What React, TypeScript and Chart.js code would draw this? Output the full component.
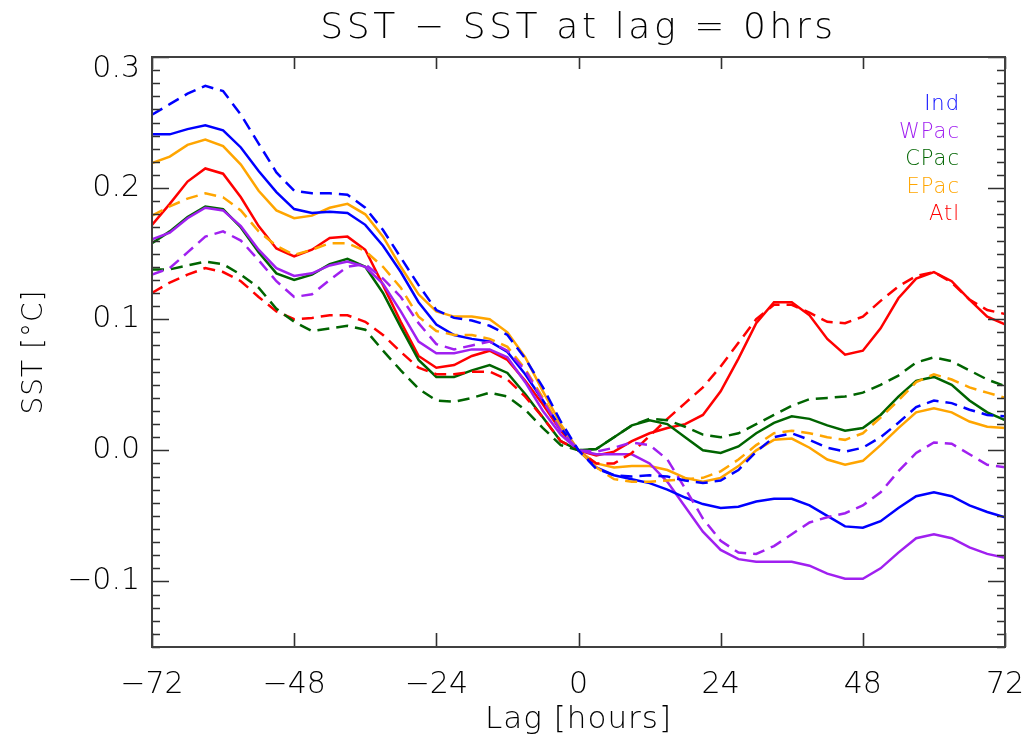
import React, { useEffect, useRef } from 'react';
import { Chart, registerables } from 'chart.js';

Chart.register(...registerables);

const lags = [-72, -69, -66, -63, -60, -57, -54, -51, -48, -45, -42, -39, -36, -33, -30, -27, -24, -21, -18, -15, -12, -9, -6, -3, 0, 3, 6, 9, 12, 15, 18, 21, 24, 27, 30, 33, 36, 39, 42, 45, 48, 51, 54, 57, 60, 63, 66, 69, 72];

const seriesNames = ['Ind', 'WPac', 'CPac', 'EPac', 'Atl'];
const seriesColors = ['#0000ff', '#a020f0', '#006400', '#ffa500', '#ff0000'];

const indSolid = [0.241, 0.241, 0.245, 0.248, 0.244, 0.231, 0.213, 0.197, 0.184, 0.181, 0.182, 0.181, 0.172, 0.156, 0.136, 0.113, 0.096, 0.088, 0.085, 0.083, 0.075, 0.058, 0.038, 0.017, 0, -0.013, -0.019, -0.022, -0.025, -0.030, -0.036, -0.041, -0.044, -0.043, -0.039, -0.037, -0.037, -0.042, -0.050, -0.058, -0.059, -0.054, -0.044, -0.035, -0.032, -0.035, -0.042, -0.047, -0.051];
const indDashed = [0.256, 0.264, 0.272, 0.278, 0.274, 0.256, 0.234, 0.212, 0.198, 0.196, 0.196, 0.195, 0.185, 0.168, 0.147, 0.126, 0.107, 0.101, 0.099, 0.095, 0.088, 0.070, 0.048, 0.022, 0, -0.014, -0.019, -0.020, -0.019, -0.020, -0.023, -0.025, -0.023, -0.015, -0.001, 0.010, 0.013, 0.008, 0.002, -0.001, 0.002, 0.010, 0.021, 0.033, 0.038, 0.036, 0.031, 0.027, 0.026];
const wpacSolid = [0.161, 0.166, 0.177, 0.185, 0.183, 0.171, 0.153, 0.139, 0.133, 0.135, 0.141, 0.144, 0.140, 0.127, 0.106, 0.083, 0.074, 0.074, 0.077, 0.077, 0.071, 0.052, 0.030, 0.012, 0, -0.003, -0.003, -0.003, -0.010, -0.024, -0.043, -0.062, -0.076, -0.083, -0.085, -0.085, -0.085, -0.088, -0.094, -0.098, -0.098, -0.090, -0.078, -0.067, -0.064, -0.067, -0.074, -0.079, -0.082];
const wpacDashed = [0.134, 0.139, 0.151, 0.163, 0.167, 0.160, 0.145, 0.129, 0.117, 0.119, 0.130, 0.140, 0.142, 0.131, 0.117, 0.097, 0.081, 0.077, 0.080, 0.083, 0.076, 0.061, 0.038, 0.015, 0, -0.001, 0.002, 0.006, 0.004, -0.007, -0.029, -0.052, -0.069, -0.078, -0.079, -0.073, -0.064, -0.055, -0.051, -0.048, -0.042, -0.032, -0.016, -0.002, 0.006, 0.005, -0.003, -0.011, -0.013];
const cpacSolid = [0.158, 0.167, 0.178, 0.186, 0.184, 0.170, 0.151, 0.135, 0.130, 0.134, 0.142, 0.146, 0.140, 0.120, 0.094, 0.069, 0.056, 0.056, 0.061, 0.065, 0.059, 0.043, 0.025, 0.007, 0, 0.001, 0.010, 0.019, 0.023, 0.020, 0.010, 0.000, -0.002, 0.003, 0.013, 0.021, 0.026, 0.024, 0.019, 0.015, 0.017, 0.027, 0.041, 0.053, 0.056, 0.050, 0.038, 0.029, 0.023];
const cpacDashed = [0.138, 0.138, 0.141, 0.144, 0.142, 0.134, 0.124, 0.108, 0.098, 0.091, 0.093, 0.095, 0.092, 0.076, 0.061, 0.047, 0.038, 0.037, 0.040, 0.044, 0.041, 0.031, 0.017, 0.004, 0, 0.001, 0.010, 0.019, 0.024, 0.023, 0.018, 0.012, 0.010, 0.013, 0.020, 0.027, 0.034, 0.039, 0.040, 0.041, 0.044, 0.050, 0.057, 0.067, 0.071, 0.068, 0.061, 0.054, 0.049];
const epacSolid = [0.219, 0.224, 0.233, 0.237, 0.232, 0.218, 0.198, 0.183, 0.177, 0.179, 0.185, 0.188, 0.180, 0.163, 0.140, 0.119, 0.106, 0.102, 0.102, 0.100, 0.090, 0.071, 0.045, 0.020, 0, -0.010, -0.013, -0.012, -0.012, -0.015, -0.021, -0.024, -0.021, -0.012, 0.000, 0.008, 0.009, 0.002, -0.007, -0.011, -0.008, 0.004, 0.017, 0.029, 0.032, 0.029, 0.022, 0.018, 0.017];
const epacDashed = [0.179, 0.186, 0.192, 0.196, 0.193, 0.183, 0.167, 0.156, 0.149, 0.153, 0.158, 0.158, 0.152, 0.140, 0.124, 0.102, 0.091, 0.088, 0.088, 0.085, 0.079, 0.062, 0.040, 0.017, 0, -0.013, -0.022, -0.024, -0.024, -0.023, -0.022, -0.021, -0.016, -0.007, 0.004, 0.013, 0.015, 0.013, 0.010, 0.008, 0.013, 0.025, 0.038, 0.052, 0.058, 0.054, 0.048, 0.044, 0.040];
const atlSolid = [0.172, 0.188, 0.205, 0.215, 0.211, 0.193, 0.171, 0.154, 0.148, 0.153, 0.162, 0.163, 0.153, 0.126, 0.098, 0.072, 0.063, 0.065, 0.072, 0.076, 0.069, 0.053, 0.035, 0.015, 0, -0.004, -0.001, 0.007, 0.013, 0.017, 0.020, 0.027, 0.045, 0.070, 0.097, 0.113, 0.113, 0.103, 0.085, 0.073, 0.076, 0.093, 0.116, 0.131, 0.136, 0.129, 0.115, 0.102, 0.096];
const atlDashed = [0.120, 0.128, 0.134, 0.139, 0.136, 0.129, 0.117, 0.106, 0.100, 0.101, 0.103, 0.103, 0.098, 0.088, 0.075, 0.063, 0.058, 0.058, 0.060, 0.060, 0.054, 0.041, 0.025, 0.007, 0, -0.010, -0.010, -0.002, 0.011, 0.024, 0.036, 0.048, 0.064, 0.082, 0.100, 0.111, 0.111, 0.105, 0.098, 0.097, 0.102, 0.114, 0.125, 0.133, 0.136, 0.128, 0.115, 0.107, 0.104];

const solidSeries = [indSolid, wpacSolid, cpacSolid, epacSolid, atlSolid];
const dashedSeries = [indDashed, wpacDashed, cpacDashed, epacDashed, atlDashed];

const xTickValues = [-72, -48, -24, 0, 24, 48, 72];
const yTickValues = [-0.1, 0, 0.1, 0.2, 0.3];
const yMinorStep = 0.01;
const xMin = -72;
const xMax = 72;
const yMin = -0.15;
const yMax = 0.3;

const titleText = 'SST \u2212 SST at lag = 0hrs';
const xTitle = 'Lag [hours]';
const yTitle = 'SST [\u00B0C]';

const FAMILY = '"DejaVu Sans", "Liberation Sans", sans-serif';
const WEIGHT = '200';

function fmtX(v: number): string {
  return v < 0 ? '\u2212' + Math.abs(v) : String(v);
}
function fmtY(v: number): string {
  const s = Math.abs(v).toFixed(1);
  return v < -1e-9 ? '\u2212' + s : s;
}

const decorPlugin = {
  id: 'decor',
  afterDatasetsDraw(chart: any) {
    const { ctx, chartArea: a, scales } = chart;
    const xs = scales.x;
    const ys = scales.y;
    ctx.save();
    ctx.strokeStyle = '#303030';
    ctx.lineWidth = 1.6;
    ctx.beginPath();
    xTickValues.forEach((v) => {
      const px = Math.round(xs.getPixelForValue(v)) + 0.5;
      ctx.moveTo(px, a.bottom);
      ctx.lineTo(px, a.bottom - 14);
      ctx.moveTo(px, a.top);
      ctx.lineTo(px, a.top + 12);
    });
    const nMinor = Math.round((yMax - yMin) / yMinorStep);
    for (let i = 0; i <= nMinor; i++) {
      const v = yMin + i * yMinorStep;
      const py = Math.round(ys.getPixelForValue(v)) + 0.5;
      const major = yTickValues.some((t) => Math.abs(t - v) < 1e-6);
      const len = major ? 17 : 8;
      ctx.moveTo(a.left, py);
      ctx.lineTo(a.left + len, py);
      ctx.moveTo(a.right, py);
      ctx.lineTo(a.right - len, py);
    }
    ctx.stroke();
    ctx.strokeStyle = '#404040';
    ctx.lineWidth = 2;
    ctx.strokeRect(a.left, a.top, a.right - a.left, a.bottom - a.top);
    ctx.restore();
  },
  afterDraw(chart: any) {
    const { ctx, chartArea: a } = chart;
    ctx.save();
    ctx.fillStyle = '#000';
    ctx.textAlign = 'center';
    ctx.textBaseline = 'middle';
    ctx.font = `${WEIGHT} 36px ${FAMILY}`;
    (ctx as any).letterSpacing = '3.6px';
    ctx.fillText(titleText, (a.left + a.right) / 2, 29);
    (ctx as any).letterSpacing = '1px';
    ctx.font = `${WEIGHT} 31px ${FAMILY}`;
    ctx.fillText(xTitle, (a.left + a.right) / 2, 720);
    ctx.save();
    ctx.translate(35, (a.top + a.bottom) / 2);
    ctx.rotate(-Math.PI / 2);
    ctx.font = `${WEIGHT} 28px ${FAMILY}`;
    ctx.fillText(yTitle, 0, 0);
    ctx.restore();
    (ctx as any).letterSpacing = '1px';
    ctx.font = `${WEIGHT} 21px ${FAMILY}`;
    ctx.textAlign = 'right';
    seriesNames.forEach((name, i) => {
      ctx.fillStyle = seriesColors[i];
      ctx.fillText(name, 960, 105 + i * 27.5);
    });
    ctx.restore();
  },
};

export default function App() {
  const ref = useRef<HTMLCanvasElement>(null);
  useEffect(() => {
    const canvas = ref.current;
    if (!canvas) return;
    const datasets: any[] = [];
    seriesNames.forEach((name, i) => {
      datasets.push({
        label: name + ' (dashed)',
        data: lags.map((x, j) => ({ x, y: dashedSeries[i][j] })),
        borderColor: seriesColors[i],
        borderWidth: 2.5,
        borderDash: [12, 7],
        pointRadius: 0,
        tension: 0,
        fill: false,
      });
    });
    seriesNames.forEach((name, i) => {
      datasets.push({
        label: name,
        data: lags.map((x, j) => ({ x, y: solidSeries[i][j] })),
        borderColor: seriesColors[i],
        borderWidth: 2.5,
        pointRadius: 0,
        tension: 0,
        fill: false,
      });
    });

    const chart = new Chart(canvas, {
      type: 'line',
      data: { datasets },
      plugins: [decorPlugin],
      options: {
        animation: false,
        responsive: false,
        devicePixelRatio: 1,
        layout: { padding: { left: 0, right: 22, top: 57, bottom: 0 } },
        plugins: {
          legend: { display: false },
          title: { display: false },
          tooltip: { enabled: false },
        },
        scales: {
          x: {
            type: 'linear',
            min: xMin,
            max: xMax,
            grid: { display: false, drawTicks: false },
            border: { display: false },
            afterBuildTicks: (s: any) => {
              s.ticks = xTickValues.map((v) => ({ value: v }));
            },
            afterFit: (s: any) => {
              s.height = 99;
              s.paddingLeft = 0;
              s.paddingRight = 0;
            },
            ticks: {
              autoSkip: false,
              maxRotation: 0,
              padding: 20,
              color: '#000',
              font: { family: FAMILY, size: 30, weight: WEIGHT as any },
              callback: (v: any) => fmtX(Number(v)),
            },
          },
          y: {
            type: 'linear',
            min: yMin,
            max: yMax,
            grid: { display: false, drawTicks: false },
            border: { display: false },
            afterBuildTicks: (s: any) => {
              s.ticks = yTickValues.map((v) => ({ value: v }));
            },
            afterFit: (s: any) => {
              s.width = 152;
              s.paddingTop = 0;
              s.paddingBottom = 0;
            },
            ticks: {
              autoSkip: false,
              padding: 12,
              color: '#000',
              font: (c: any) => ({
                family: FAMILY,
                size: 30,
                weight: WEIGHT as any,
                lineHeight: c.tick && Math.abs(c.tick.value - yMax) < 1e-6 ? 0.8 : 1.2,
              }),
              callback: (v: any) => {
                const n = Number(v);
                return Math.abs(n - yMax) < 1e-6 ? ['', fmtY(n)] : fmtY(n);
              },
            },
          },
        },
      } as any,
    });
    return () => chart.destroy();
  }, []);

  return (
    <div style={{ position: 'fixed', left: 0, top: 0, width: 1027, height: 746, background: '#fff' }}>
      <canvas ref={ref} width={1027} height={746} style={{ width: 1027, height: 746, display: 'block' }} />
    </div>
  );
}
